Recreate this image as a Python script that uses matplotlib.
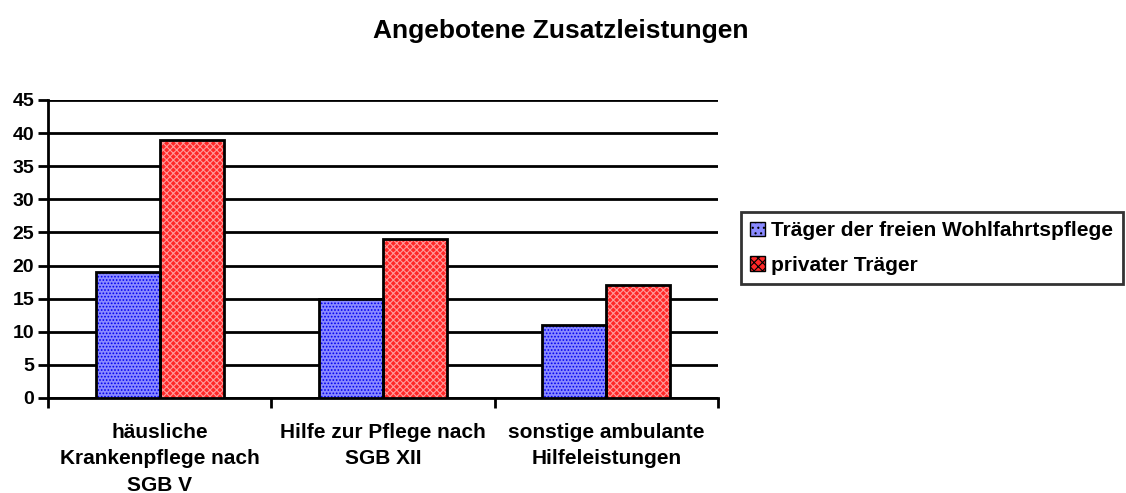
import matplotlib.pyplot as plt
import numpy as np
from matplotlib.patches import Patch

plt.rcParams['font.family'] = ['Liberation Sans', 'DejaVu Sans']
plt.rcParams['font.weight'] = 'bold'
plt.rcParams['hatch.linewidth'] = 0.8

categories = ["häusliche\nKrankenpflege nach\nSGB V",
              "Hilfe zur Pflege nach\nSGB XII",
              "sonstige ambulante\nHilfeleistungen"]
freie = [19, 15, 11]
privat = [39, 24, 17]
series_names = ["Träger der freien Wohlfahrtspflege", "privater Träger"]

blue_face, blue_hatch = '#8a8aff', '#0000f0'
red_face, red_hatch = '#ff2828', '#ff9a9a'

fig = plt.figure(figsize=(11.26, 4.93), dpi=100)
ax = fig.add_axes([48 / 1126, 1 - 398 / 493, 670 / 1126, 298 / 493])

x = np.arange(len(categories))
w = 0.287

ax.bar(x - w / 2, freie, w, facecolor=blue_face, edgecolor=blue_hatch,
       hatch='.....', linewidth=0, zorder=3)
ax.bar(x + w / 2, privat, w, facecolor=red_face, edgecolor=red_hatch,
       hatch='xxxxx', linewidth=0, zorder=3)
# outlines
ax.bar(x - w / 2, freie, w, facecolor='none', edgecolor='black', linewidth=2, zorder=4)
ax.bar(x + w / 2, privat, w, facecolor='none', edgecolor='black', linewidth=2, zorder=4)

ax.set_xlim(-0.5, 2.5)
ax.set_ylim(0, 45)
ax.set_yticks(range(0, 46, 5))
ax.yaxis.grid(True, color='black', linewidth=2, zorder=1)
ax.set_axisbelow(True)

ax.set_xticks(x)
ax.set_xticklabels(categories, fontsize=15, fontweight='bold', linespacing=1.5)
ax.set_xticks([-0.5, 0.5, 1.5, 2.5], minor=True)
ax.tick_params(axis='x', which='major', length=0, pad=18)
ax.tick_params(axis='x', which='minor', length=7, width=2, direction='out')
ax.tick_params(axis='y', length=7, width=2, labelsize=14, pad=3)

for s in ['top', 'right']:
    ax.spines[s].set_visible(False)
for s in ['left', 'bottom']:
    ax.spines[s].set_linewidth(2)

fig.text(561 / 1126, 1 - 31 / 493, "Angebotene Zusatzleistungen",
         ha='center', va='center', fontsize=19, fontweight='bold')

handles = [Patch(facecolor=blue_face, edgecolor=blue_hatch, hatch='...'),
           Patch(facecolor=red_face, edgecolor=red_hatch, hatch='xxxx')]
leg = fig.legend(handles, series_names, loc='upper left',
                 bbox_to_anchor=(741 / 1126, 1 - 212 / 493),
                 prop={'size': 15, 'weight': 'bold'}, frameon=True,
                 fancybox=False, edgecolor='black', handlelength=0.7,
                 handleheight=0.7, handletextpad=0.3, borderpad=0.45,
                 labelspacing=0.75, borderaxespad=0)
leg.get_frame().set_linewidth(2)
for p in leg.get_patches():
    p.set_edgecolor('black')

fig.savefig('out.png', dpi=100)
